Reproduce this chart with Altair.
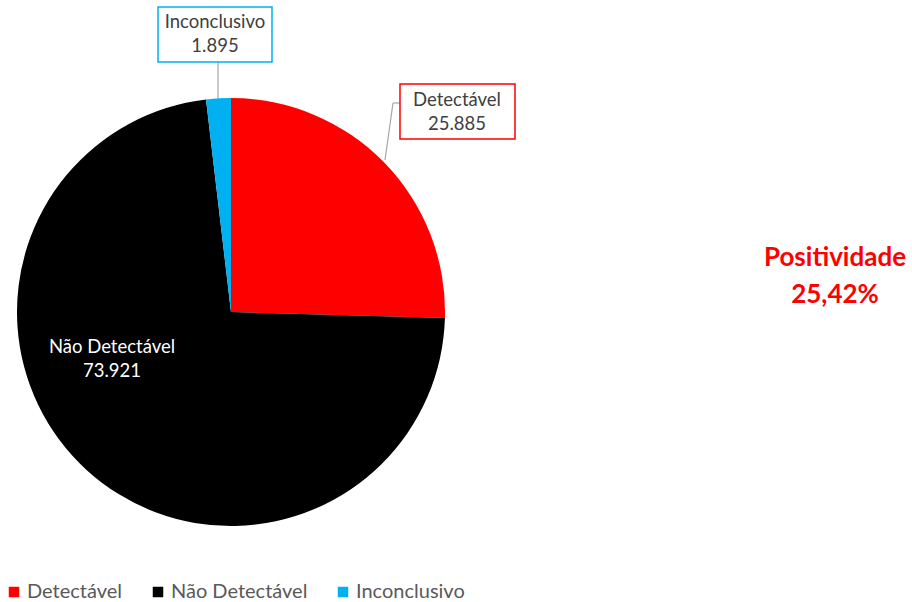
import altair as alt
import pandas as pd

# data
categories = ["Detectável", "Não Detectável", "Inconclusivo"]
values = [25885, 73921, 1895]
value_labels = ["25.885", "73.921", "1.895"]
colors = ["#FF0000", "#000000", "#00B0F0"]
summary_lines = ["Positividade", "25,42%"]

FONT = "Lato"
W, H = 912, 602
CX, CY, R = 231, 312, 214

df = pd.DataFrame({"cat": categories, "val": values, "idx": list(range(len(categories)))})

pie = alt.Chart(df).mark_arc(radius=R).encode(
    theta=alt.Theta("val:Q", stack=True),
    color=alt.Color(
        "cat:N",
        scale=alt.Scale(domain=categories, range=colors),
        sort=categories,
        legend=alt.Legend(
            title=None, orient="none", legendX=4, legendY=582, direction="horizontal",
            symbolType="square", symbolSize=110, symbolStrokeWidth=0,
            labelFont=FONT, labelFontSize=20, labelColor="#595959",
            columnPadding=25, labelOffset=3, labelLimit=300,
        ),
    ),
    order=alt.Order("idx:Q"),
    x=alt.value(CX),
    y=alt.value(CY),
)

# annotation layout (pixel positions)
boxes = pd.DataFrame({
    "x": [158, 400], "x2": [272, 515], "y": [7, 84], "y2": [62, 139],
    "c": [colors[2], colors[0]],
})
box_layer = alt.Chart(boxes).mark_rect(fill="white", strokeWidth=1.5).encode(
    x=alt.X("x:Q", scale=alt.Scale(domain=[0, W], range=[0, W]), axis=None),
    x2="x2:Q",
    y=alt.Y("y:Q", scale=alt.Scale(domain=[0, H], range=[0, H]), axis=None),
    y2="y2:Q",
    stroke=alt.Stroke("c:N", scale=None),
)

lines = pd.DataFrame({
    "x": [218, 400, 393], "x2": [218, 393, 385],
    "y": [62, 103, 103], "y2": [98, 103, 160],
})
line_layer = alt.Chart(lines).mark_rule(color="#A6A6A6", strokeWidth=1.2).encode(
    x=alt.X("x:Q", scale=alt.Scale(domain=[0, W], range=[0, W]), axis=None),
    x2="x2:Q",
    y=alt.Y("y:Q", scale=alt.Scale(domain=[0, H], range=[0, H]), axis=None),
    y2="y2:Q",
)

labels = pd.DataFrame({
    "t": [categories[2], value_labels[2], categories[0], value_labels[0], categories[1], value_labels[1]],
    "x": [215, 215, 457, 457, 112, 112],
    "y": [22, 46, 100, 124, 347, 371],
    "c": ["#404040", "#404040", "#404040", "#404040", "#FFFFFF", "#FFFFFF"],
})
label_layer = alt.Chart(labels).mark_text(font=FONT, fontSize=18.5, baseline="middle", align="center").encode(
    x=alt.X("x:Q", scale=alt.Scale(domain=[0, W], range=[0, W]), axis=None),
    y=alt.Y("y:Q", scale=alt.Scale(domain=[0, H], range=[0, H]), axis=None),
    text="t:N",
    color=alt.Color("c:N", scale=None),
)

summary = pd.DataFrame({"t": summary_lines, "x": [835, 835], "y": [258, 295]})
summary_layer = alt.Chart(summary).mark_text(
    font=FONT, fontSize=26, fontWeight="bold", color="#FF0000", baseline="middle", align="center"
).encode(
    x=alt.X("x:Q", scale=alt.Scale(domain=[0, W], range=[0, W]), axis=None),
    y=alt.Y("y:Q", scale=alt.Scale(domain=[0, H], range=[0, H]), axis=None),
    text="t:N",
)

chart = alt.layer(pie, line_layer, box_layer, label_layer, summary_layer).resolve_scale(
    color="independent"
).properties(
    width=W, height=H, autosize=alt.AutoSizeParams(type="none"), padding=0,
    background="white",
).configure_view(stroke=None)

chart.save("out.html", embed_options={"renderer": "svg", "actions": False})
